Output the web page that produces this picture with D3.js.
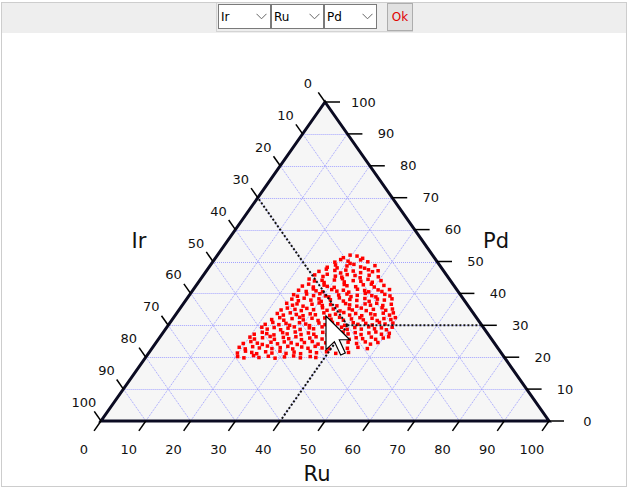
<!DOCTYPE html>
<html><head><meta charset="utf-8">
<script src="https://cdn.jsdelivr.net/npm/d3@7"></script>
<style>
html,body{margin:0;padding:0;background:#fff;overflow:hidden;width:628px;height:488px;}
#frame{position:absolute;left:1px;top:2px;width:624px;height:483px;border:1px solid #cdcdcd;background:#fff;overflow:hidden;}
#bar{position:absolute;left:0;top:0;width:624px;height:30px;background:#eeeeee;}
#grp{position:absolute;left:214px;top:-1px;width:197px;height:30px;border:1px solid #d4d4d4;box-sizing:border-box;}
#bar select{position:absolute;top:1px;height:25px;width:53px;box-sizing:border-box;border:1px solid #7a7a7a;background:#fff;
  font:12px "DejaVu Sans",Arial,sans-serif;color:#000;padding:0 0 0 2px;margin:0;border-radius:0;
  -webkit-appearance:none;appearance:none;
  background-image:url("data:image/svg+xml;utf8,<svg xmlns='http://www.w3.org/2000/svg' width='11' height='7'><path d='M0.5 0.8 L5.5 5.8 L10.5 0.8' fill='none' stroke='%23666' stroke-width='1'/></svg>");
  background-repeat:no-repeat;background-position:right 3px center;}
#ok{position:absolute;left:385px;top:0px;width:26px;height:28px;box-sizing:border-box;border:1px solid #adadad;background:#e1e1e1;
  color:#e00000;font:12px "DejaVu Sans",Arial,sans-serif;padding:0;margin:0;}
#chart{position:absolute;left:-2px;top:-3px;}
</style></head>
<body>
<div id="frame">
  <svg id="chart" width="628" height="488"></svg>
  <div id="bar">
    <div id="grp"></div>
  </div>
</div>
<script>
// ---------- data ----------
const axisNames = ["Ir", "Ru", "Pd"];          // left, bottom, right
const tickValues = [0,10,20,30,40,50,60,70,80,90,100];
const gridValues = [10,20,30,40,50,60,70,80,90];
const crosshair = {ir: 30, ru: 40, pd: 30};      // highlighted composition
// sample compositions as [Ru, Pd]  (Ir = 100 - Ru - Pd)
const samples = [
[28.5,51.2],[29.6,52.0],[31.3,51.7],[32.9,51.0],
[27.3,49.8],[28.2,50.6],[30.1,50.1],[30.9,49.4],[32.7,50.5],[34.6,49.9],
[26.4,48.2],[27.9,48.9],[28.7,48.0],[30.6,48.6],[31.9,49.1],[33.8,48.3],[34.9,47.9],[36.8,48.7],
[25.2,46.9],[26.5,47.6],[28.6,47.2],[30.3,46.4],[31.0,47.3],[32.8,47.0],[34.7,46.5],[36.0,47.4],[37.2,46.8],[38.3,47.1],
[24.8,45.8],[26.9,45.3],[27.5,46.0],[29.6,45.4],[31.2,45.1],[32.0,45.9],[33.9,45.6],[35.4,44.9],[37.0,45.7],[39.3,45.2],
[24.2,44.5],[25.7,43.9],[27.3,44.1],[28.1,43.4],[30.0,44.2],[31.6,44.6],[32.5,43.6],[34.3,44.0],[36.1,43.8],[37.4,44.4],[38.8,43.5],[40.5,44.0],
[23.8,42.3],[24.9,42.9],[26.4,42.0],[28.5,42.6],[29.4,42.2],[31.1,41.9],[32.9,42.8],[33.7,42.4],[35.8,42.1],[37.2,42.7],[38.9,42.9],[40.0,42.0],[41.9,42.5],
[23.6,41.0],[25.5,40.6],[26.7,41.4],[27.6,40.8],[29.2,40.5],[30.9,41.2],[32.3,40.7],[33.6,41.0],[35.1,40.4],[36.6,41.3],[38.4,40.9],[39.5,40.5],[41.3,41.1],[42.4,40.6],[43.8,41.2],
[23.2,39.6],[24.3,39.1],[26.0,39.8],[27.8,39.3],[28.9,39.9],[30.5,39.2],[31.4,38.9],[33.3,39.5],[35.0,39.8],[36.3,39.0],[37.5,39.4],[39.0,40.0],[40.8,39.3],[41.9,38.9],[43.5,39.7],[44.9,39.2],
[23.5,38.2],[25.2,37.7],[26.1,38.5],[27.9,37.9],[29.5,38.3],[30.4,37.5],[32.2,38.0],[33.9,38.6],[35.3,37.6],[36.5,38.1],[38.2,37.8],[39.7,38.4],[41.1,37.5],[42.6,38.2],[44.3,37.9],[45.8,38.3],
[23.0,36.9],[24.6,36.3],[25.4,36.7],[27.1,36.0],[28.8,36.6],[30.2,37.0],[31.3,36.2],[33.0,36.5],[34.6,36.1],[36.2,36.8],[37.3,36.4],[39.1,36.0],[40.6,36.7],[42.0,36.3],[43.1,36.9],[44.8,36.2],[46.5,36.6],
[22.8,34.8],[23.9,35.4],[25.8,35.0],[27.4,34.6],[28.3,35.3],[30.0,34.9],[31.7,35.5],[33.1,34.7],[34.3,35.1],[36.1,34.5],[37.8,35.2],[38.7,34.8],[40.4,35.4],[41.9,34.6],[43.3,35.0],[45.0,35.5],[46.2,34.7],[47.5,35.1],
[22.5,33.7],[24.1,33.2],[25.3,33.9],[26.9,33.4],[28.6,33.0],[29.9,33.6],[31.2,33.3],[32.8,33.9],[34.5,33.1],[35.6,33.5],[37.2,34.0],[38.9,33.2],[40.0,33.7],[41.7,33.0],[43.4,33.6],[44.5,33.3],[46.1,33.8],[47.8,33.2],[48.3,33.9],
[22.2,31.8],[23.7,32.4],[25.0,31.6],[26.6,32.1],[28.1,32.5],[29.3,31.7],[31.0,32.2],[32.7,31.5],[33.8,32.3],[35.4,31.9],[37.0,32.5],[38.3,31.6],[39.9,32.0],[41.6,32.4],[42.7,31.7],[44.4,32.2],[45.9,31.5],[47.1,32.1],[48.8,31.8],[49.5,32.4],
[21.5,30.3],[22.9,30.9],[24.6,30.2],[26.0,30.6],[27.1,30.0],[28.9,30.8],[30.5,30.4],[31.6,29.9],[33.3,30.7],[34.9,30.2],[36.2,30.9],[37.6,30.5],[39.4,30.0],[40.9,30.8],[42.2,30.3],[43.8,30.6],[45.5,30.1],[46.7,30.9],[48.2,30.4],[49.8,30.7],
[21.2,29.4],[22.7,28.8],[24.0,29.3],[25.8,28.6],[27.2,29.1],[28.4,29.5],[30.1,28.7],[31.9,29.2],[33.0,28.9],[34.6,29.5],[36.3,28.6],[37.5,29.0],[39.0,29.4],[40.6,28.7],[42.0,29.3],[43.7,28.8],[45.0,29.5],[46.6,28.9],[48.0,29.2],[49.4,28.6],[50.3,29.4],
[20.6,27.2],[22.1,27.8],[23.3,27.4],[25.1,27.0],[26.7,27.7],[27.9,27.3],[29.4,27.9],[31.1,27.1],[32.5,27.6],[33.9,27.2],[35.6,27.8],[37.0,27.0],[38.3,27.5],[40.1,27.9],[41.5,27.3],[42.9,27.7],[44.5,27.1],[46.0,27.6],[47.4,27.9],[49.0,27.2],[50.6,27.5],
[20.1,26.3],[21.4,25.7],[23.0,26.1],[24.5,26.5],[25.9,25.6],[27.6,26.2],[29.0,25.8],[30.3,26.4],[32.0,25.5],[33.6,26.0],[34.8,26.4],[36.5,25.7],[38.1,26.2],[39.4,25.9],[41.0,26.5],[42.6,25.6],[43.9,26.1],[45.5,25.8],[47.2,26.3],[48.5,25.6],[50.0,26.0],[51.0,26.4],
[19.6,24.3],[21.0,24.9],[22.7,24.4],[24.0,24.0],[25.6,24.7],[27.3,24.2],[28.5,24.8],[30.2,24.5],[31.8,24.0],[33.1,24.6],[34.7,24.9],[36.4,24.1],[37.9,24.5],[39.2,24.9],[41.0,24.2],[42.8,24.7],[44.9,24.3],[46.6,24.8],[48.1,24.1],[49.5,24.6],
[19.3,23.1],[20.9,22.6],[22.2,23.3],[23.9,22.9],[25.4,23.5],[26.8,22.7],[28.5,23.0],[30.0,23.4],[31.5,22.6],[33.2,23.2],[34.8,22.8],[36.1,23.4],[37.9,22.9],[39.6,22.6],[41.4,23.3],[43.6,22.8],[45.8,23.1],[48.1,22.7],
[19.8,21.3],[21.3,21.9],[22.9,21.5],[24.2,21.1],[25.9,21.7],[27.5,21.3],[29.0,21.9],[30.7,21.2],[32.3,21.6],[34.0,21.1],[35.8,21.8],[37.4,21.4],[39.5,21.7],[41.8,21.2],[44.5,21.5],
[20.4,20.2],[22.0,19.8],[23.8,20.5],[25.3,19.9],[27.2,20.3],[29.0,19.7],[30.9,20.1],[32.8,20.4],[34.6,19.8],[36.6,20.2],[38.0,19.9]
];

// ---------- toolbar ----------
const bar = d3.select("#bar");
const selLeft = [216, 269, 322];
const opts = ["Ir","Ru","Pd"];
axisNames.forEach((name, i) => {
  const s = bar.append("select").style("left", selLeft[i] + "px");
  s.selectAll("option").data(opts).join("option").text(d => d).property("selected", d => d === name);
});
bar.append("button").attr("id","ok").text("Ok");

// ---------- chart ----------
const svg = d3.select("#chart");
const xs = d3.scaleLinear().domain([0,100]).range([101,549]);   // Ru + Pd/2
const ys = d3.scaleLinear().domain([0,100]).range([421,102]);   // Pd
const P = (ru, pd) => [xs(ru + pd/2), ys(pd)];
const line = d3.line();
const FONT = '"DejaVu Sans", Verdana, sans-serif';

// triangle background
svg.append("path")
  .attr("d", line([P(0,0), P(100,0), P(0,100)]) + "Z")
  .attr("fill", "#f6f6f6");

// grid
const grid = svg.append("g").attr("fill","none").attr("stroke-width",1).attr("stroke-dasharray","1 1");
gridValues.forEach(k => {
  const a = P(0,k), b = P(100-k,k), yy = Math.round(a[1]) + 0.5;
  grid.append("path").attr("d", line([[a[0],yy],[b[0],yy]])).attr("stroke","#a2a2ff");     // Pd = k
  grid.append("path").attr("d", line([P(k,0), P(k,100-k)])).attr("stroke","#9c9cff");       // Ru = k
  grid.append("path").attr("d", line([P(0,100-k), P(100-k,0)])).attr("stroke","#9c9cff");   // Ir = k
});

// outline
svg.append("path")
  .attr("d", line([P(0,0), P(100,0), P(0,100)]) + "Z")
  .attr("fill","none").attr("stroke","#0b0b22").attr("stroke-width",3).attr("stroke-linejoin","miter");

// ticks
const ticks = svg.append("g").attr("stroke","#000").attr("stroke-width",1.5);
const labels = svg.append("g").attr("font-family",FONT).attr("font-size",13)
  .attr("fill","#111").attr("text-anchor","middle").attr("dominant-baseline","central");
tickValues.forEach(t => {
  // Ir (left)
  let a = P(0,100-t), b = P(-3,100-t+3);
  ticks.append("line").attr("x1",a[0]).attr("y1",a[1]).attr("x2",b[0]).attr("y2",b[1]);
  labels.append("text").attr("x",a[0]-17).attr("y",a[1]-18.5).text(t);
  // Ru (bottom)
  a = P(t,0); b = P(t,-3.1);
  ticks.append("line").attr("x1",a[0]).attr("y1",a[1]).attr("x2",b[0]).attr("y2",b[1]);
  labels.append("text").attr("x",a[0]-17).attr("y",a[1]+28).text(t);
  // Pd (right)
  a = P(100-t,t); b = P(100-t+3.35,t);
  ticks.append("line").attr("x1",a[0]).attr("y1",a[1]).attr("x2",b[0]).attr("y2",b[1]);
  labels.append("text").attr("x",a[0]+38.5).attr("y",a[1]).text(t);
});

// axis titles
const titles = svg.append("g").attr("font-family",FONT).attr("font-size",21)
  .attr("fill","#111").attr("text-anchor","middle");
titles.append("text").attr("x",139).attr("y",247.5).text(axisNames[0]);
titles.append("text").attr("x",317).attr("y",481).text(axisNames[1]);
titles.append("text").attr("x",496).attr("y",247.5).text(axisNames[2]);

// points
svg.append("g").selectAll("rect").data(samples).join("rect")
  .attr("x", d => P(d[0],d[1])[0] - 1.75)
  .attr("y", d => P(d[0],d[1])[1] - 1.75)
  .attr("width",3.5).attr("height",3.5).attr("fill","#ff0000");

// crosshair
const c = P(crosshair.ru, crosshair.pd);
const ch = svg.append("g").attr("stroke","#111").attr("stroke-width",2).attr("stroke-dasharray","2 2").attr("fill","none");
[P(100-crosshair.pd, crosshair.pd), P(0, 100-crosshair.ir), P(crosshair.ru, 0)].forEach(e => {
  ch.append("path").attr("d", line([c, e]));
});

// mouse pointer
svg.append("path")
  .attr("d","M0,0 L0,16 L4,12.2 L7,18.6 L9.2,17.6 L6.3,11.3 L11.3,11.3 Z")
  .attr("transform","translate(326,316) scale(2.1)")
  .attr("fill","#fff").attr("stroke","#000").attr("stroke-width",0.55).attr("stroke-linejoin","miter");
</script>
</body></html>
